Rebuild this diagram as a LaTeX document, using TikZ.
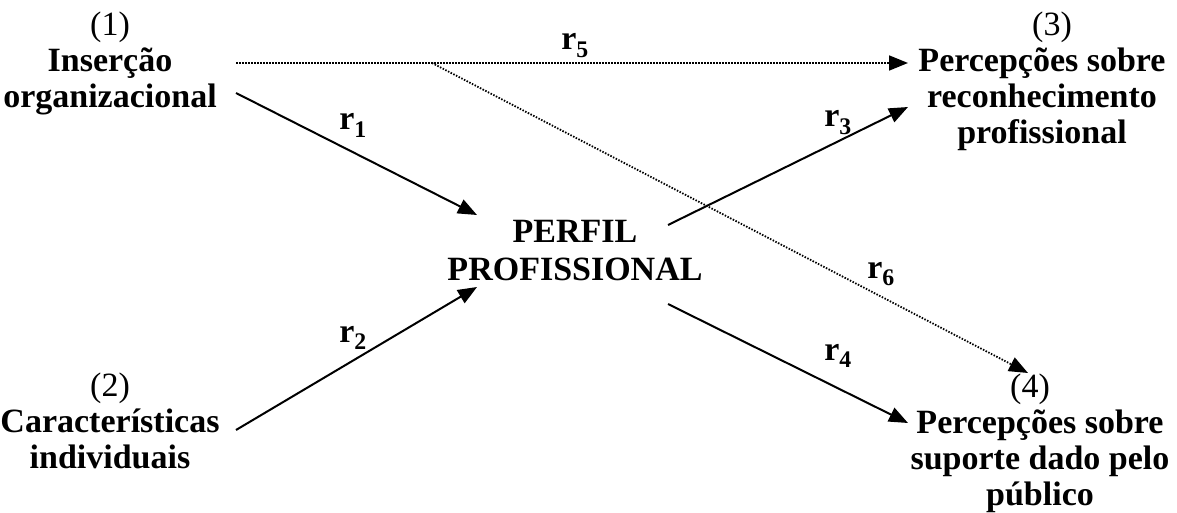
\documentclass[tikz,border=0pt]{standalone}
\usepackage{fontspec}
\setmainfont{Liberation Serif}
\usetikzlibrary{arrows.meta}
\begin{document}
\begin{tikzpicture}[x=1pt,y=-1pt,
  every node/.style={inner sep=0pt, outer sep=0pt},
  block/.style={align=center, anchor=base, font=\fontsize{34}{36}\selectfont},
  lbl/.style={anchor=base, font=\fontsize{34}{36}\selectfont\bfseries},
  tip/.style={-{Triangle[length=19pt,width=15pt]}},
  link/.style={tip, line width=2pt},
  hint/.style={tip, line width=1.8pt, dash pattern=on 1.5pt off 1.5pt}]
\useasboundingbox (0,0) rectangle (1177,513);

% variable blocks (anchored on the baseline of their last line)
\node[block] (ins) at (110,108) {(1)\\\textbf{Inserção}\\\textbf{organizacional}};
\node[block] (car) at (110,468) {(2)\\\textbf{Características}\\\textbf{individuais}};
\node[block] (rec) at (1042,144) {\hspace*{20pt}(3)\\\textbf{Percepções sobre}\\\textbf{reconhecimento}\\\textbf{profissional}};
\node[block] (sup) at (1040,505) {(4)\hspace*{20pt}\\\textbf{Percepções sobre}\\\textbf{suporte dado pelo}\\\textbf{público}};
\node[block, font=\fontsize{34}{38}\selectfont\bfseries] (per) at (575,280) {PERFIL\\PROFISSIONAL};

% connector end points
\coordinate (a1) at (236,93);   \coordinate (b1) at (477,215);
\coordinate (a2) at (236,430);  \coordinate (b2) at (477,287);
\coordinate (a3) at (668,225);  \coordinate (b3) at (908,107);
\coordinate (a4) at (668,304);  \coordinate (b4) at (908,423);
\coordinate (a5) at (236,63);   \coordinate (b5) at (908,63);
\coordinate (a6) at (432,63);   \coordinate (b6) at (1028,373);

% direct relations
\draw[link] (a1) -- (b1);
\draw[link] (a2) -- (b2);
\draw[link] (a3) -- (b3);
\draw[link] (a4) -- (b4);

% indirect relations
\draw[hint] (a5) -- (b5);
\draw[hint] (a6) -- (b6);

% relation labels
\node[lbl] (r1) at (353,130) {r\textsubscript{1}};
\node[lbl] (r2) at (353,342) {r\textsubscript{2}};
\node[lbl] (r3) at (838,127) {r\textsubscript{3}};
\node[lbl] (r4) at (838,360) {r\textsubscript{4}};
\node[lbl] (r5) at (575,50)  {r\textsubscript{5}};
\node[lbl] (r6) at (881,278) {r\textsubscript{6}};
\end{tikzpicture}
\end{document}
